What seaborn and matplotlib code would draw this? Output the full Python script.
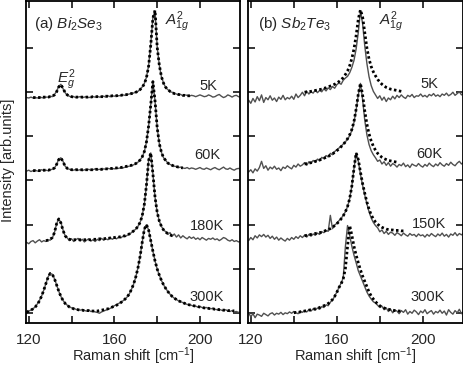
import numpy as np
import pandas as pd
import matplotlib
matplotlib.use("Agg")
import matplotlib.pyplot as plt
import seaborn as sns

# Raman shift grid of the measured spectra (cm^-1)
shift = np.arange(119, 220)

# ---- (a) Bi2Se3 : measured spectra, intensity above each baseline ----
bi_5k = [0.01, 0.00, 0.02, 0.00, 0.01, 0.00, 0.02, 0.01, 0.00, 0.02,
         0.02, 0.04, 0.03, 0.08, 0.15, 0.26, 0.31, 0.21, 0.12, 0.06,
         0.04, 0.02, 0.03, 0.01, 0.02, 0.03, 0.01, 0.02, 0.03, 0.01,
         0.02, 0.03, 0.02, 0.04, 0.02, 0.03, 0.04, 0.02, 0.05, 0.03,
         0.05, 0.04, 0.06, 0.05, 0.06, 0.07, 0.06, 0.08, 0.09, 0.11,
         0.11, 0.14, 0.15, 0.19, 0.25, 0.33, 0.47, 0.73, 1.22, 1.82,
         1.96, 1.16, 0.74, 0.47, 0.34, 0.23, 0.19, 0.14, 0.13, 0.10,
         0.09, 0.07, 0.08, 0.05, 0.07, 0.06, 0.04, 0.06, 0.05, 0.03,
         0.05, 0.07, 0.05, 0.03, 0.04, 0.07, 0.05, 0.02, 0.03, 0.06,
         0.08, 0.04, 0.01, 0.03, 0.07, 0.05, 0.02, 0.05, 0.06, 0.03,
         0.02]
bi_60k = [0.00, 0.02, -0.01, 0.01, 0.02, 0.00, 0.01, 0.03, 0.01, 0.02,
          0.01, 0.03, 0.04, 0.07, 0.15, 0.27, 0.30, 0.22, 0.11, 0.06,
          0.04, 0.03, 0.02, 0.04, 0.02, 0.03, 0.01, 0.03, 0.02, 0.04,
          0.02, 0.03, 0.05, 0.03, 0.04, 0.03, 0.05, 0.04, 0.06, 0.05,
          0.06, 0.05, 0.07, 0.06, 0.08, 0.07, 0.09, 0.10, 0.11, 0.13,
          0.14, 0.17, 0.20, 0.25, 0.32, 0.44, 0.66, 1.02, 1.50, 2.02,
          1.58, 0.98, 0.62, 0.42, 0.30, 0.24, 0.18, 0.15, 0.13, 0.11,
          0.10, 0.08, 0.09, 0.07, 0.06, 0.08, 0.05, 0.07, 0.06, 0.04,
          0.06, 0.08, 0.05, 0.04, 0.07, 0.05, 0.03, 0.06, 0.08, 0.05,
          0.03, 0.06, 0.09, 0.05, 0.04, 0.07, 0.04, 0.02, 0.05, 0.06,
          0.04]
bi_180k = [0.00, -0.03, 0.02, 0.04, -0.01, 0.03, 0.06, 0.01, 0.04, 0.02,
           0.06, 0.05, 0.10, 0.22, 0.42, 0.53, 0.45, 0.28, 0.15, 0.10,
           0.04, 0.08, 0.02, 0.06, 0.09, 0.03, 0.07, 0.01, 0.05, 0.08,
           0.03, 0.06, 0.02, 0.07, 0.04, 0.09, 0.05, 0.08, 0.06, 0.11,
           0.07, 0.10, 0.08, 0.12, 0.10, 0.14, 0.13, 0.16, 0.19, 0.22,
           0.26, 0.30, 0.36, 0.45, 0.60, 0.86, 1.30, 1.85, 2.02, 1.55,
           1.02, 0.68, 0.48, 0.36, 0.28, 0.24, 0.18, 0.22, 0.14, 0.19,
           0.12, 0.17, 0.10, 0.15, 0.11, 0.08, 0.13, 0.09, 0.12, 0.07,
           0.10, 0.06, 0.11, 0.08, 0.05, 0.09, 0.07, 0.10, 0.06, 0.08,
           0.04, 0.07, 0.11, 0.09, 0.05, 0.03, 0.06, 0.02, 0.04, 0.01,
           0.03]
bi_300k = [0.00, 0.03, 0.05, 0.08, 0.13, 0.19, 0.27, 0.37, 0.50, 0.65,
           0.80, 0.88, 0.86, 0.76, 0.62, 0.48, 0.36, 0.27, 0.21, 0.16,
           0.13, 0.10, 0.09, 0.07, 0.06, 0.05, 0.06, 0.04, 0.03, 0.05,
           0.02, 0.03, 0.01, 0.00, -0.02, 0.01, 0.03, 0.05, 0.07, 0.09,
           0.12, 0.15, 0.17, 0.20, 0.23, 0.26, 0.30, 0.35, 0.42, 0.52,
           0.64, 0.80, 1.00, 1.26, 1.58, 1.88, 1.98, 1.86, 1.62, 1.38,
           1.16, 0.98, 0.84, 0.72, 0.62, 0.54, 0.47, 0.41, 0.36, 0.32,
           0.29, 0.26, 0.24, 0.22, 0.20, 0.18, 0.17, 0.16, 0.14, 0.14,
           0.12, 0.13, 0.11, 0.10, 0.11, 0.09, 0.08, 0.09, 0.07, 0.06,
           0.07, 0.05, 0.04, 0.06, 0.03, 0.02, 0.04, 0.01, 0.02, 0.00,
           0.01]

# ---- (a) Bi2Se3 : fitted curves (start shift, values) ----
bi_5k_fit_start = 122
bi_5k_fit = [0.01, 0.01, 0.01, 0.01, 0.01, 0.02, 0.02, 0.02, 0.03, 0.04,
             0.07, 0.14, 0.25, 0.30, 0.22, 0.12, 0.07, 0.04, 0.03, 0.02,
             0.02, 0.02, 0.02, 0.02, 0.02, 0.02, 0.02, 0.02, 0.03, 0.03,
             0.03, 0.03, 0.03, 0.03, 0.04, 0.04, 0.04, 0.05, 0.05, 0.05,
             0.06, 0.06, 0.07, 0.07, 0.08, 0.09, 0.10, 0.11, 0.13, 0.15,
             0.19, 0.24, 0.32, 0.46, 0.72, 1.20, 1.80, 1.98, 1.15, 0.74,
             0.48, 0.33, 0.24, 0.19, 0.15, 0.12, 0.10, 0.09, 0.08, 0.07,
             0.06, 0.06, 0.05, 0.05, 0.05]
bi_60k_fit_start = 122
bi_60k_fit = [0.01, 0.01, 0.01, 0.01, 0.02, 0.02, 0.02, 0.02, 0.03, 0.04,
              0.07, 0.15, 0.26, 0.30, 0.21, 0.11, 0.06, 0.04, 0.03, 0.03,
              0.03, 0.03, 0.03, 0.03, 0.03, 0.03, 0.03, 0.03, 0.03, 0.04,
              0.04, 0.04, 0.04, 0.05, 0.05, 0.05, 0.06, 0.06, 0.07, 0.07,
              0.08, 0.08, 0.09, 0.10, 0.11, 0.12, 0.13, 0.15, 0.17, 0.20,
              0.25, 0.32, 0.44, 0.66, 1.02, 1.50, 2.02, 1.58, 0.98, 0.62,
              0.42, 0.30, 0.24, 0.18, 0.15, 0.13, 0.11, 0.10, 0.09, 0.08,
              0.07]
bi_180k_fit_start = 128
bi_180k_fit = [0.04, 0.05, 0.07, 0.11, 0.22, 0.42, 0.53, 0.44, 0.27, 0.15,
               0.09, 0.07, 0.06, 0.06, 0.06, 0.06, 0.06, 0.06, 0.06, 0.06,
               0.06, 0.06, 0.07, 0.07, 0.07, 0.08, 0.08, 0.08, 0.09, 0.09,
               0.10, 0.10, 0.11, 0.12, 0.12, 0.13, 0.14, 0.15, 0.17, 0.19,
               0.22, 0.26, 0.30, 0.36, 0.45, 0.60, 0.86, 1.30, 1.85, 2.02,
               1.55, 1.02, 0.68, 0.48, 0.36, 0.28, 0.23, 0.20, 0.17, 0.15,
               0.14]
bi_300k_fit_start = 119
bi_300k_fit = [0.00, 0.03, 0.05, 0.08, 0.12, 0.18, 0.26, 0.37, 0.50, 0.65,
               0.79, 0.88, 0.86, 0.76, 0.62, 0.48, 0.36, 0.27, 0.20, 0.16,
               0.12, 0.10, 0.08, 0.07, 0.06, 0.05, 0.05, 0.04, 0.04, 0.04,
               0.03, 0.03, 0.03, 0.03, 0.04, 0.05, 0.06, 0.07, 0.08, 0.10,
               0.12, 0.14, 0.16, 0.19, 0.22, 0.26, 0.30, 0.35, 0.42, 0.52,
               0.64, 0.80, 1.00, 1.26, 1.58, 1.88, 1.98, 1.86, 1.62, 1.38,
               1.16, 0.98, 0.84, 0.72, 0.62, 0.54, 0.47, 0.41, 0.36, 0.32,
               0.29, 0.26, 0.24, 0.22, 0.20, 0.18, 0.17, 0.16, 0.15, 0.14,
               0.13, 0.12, 0.11, 0.10, 0.10, 0.09, 0.08, 0.08, 0.07, 0.07,
               0.06, 0.06, 0.05, 0.05, 0.04, 0.04, 0.04, 0.03]

# ---- (b) Sb2Te3 : measured spectra ----
sb_5k = [0.02, -0.05, 0.06, -0.02, 0.10, 0.01, 0.14, -0.03, 0.08, 0.03,
         0.12, 0.02, 0.07, -0.01, 0.09, 0.04, 0.13, 0.03, 0.08, 0.05,
         0.11, 0.04, 0.16, 0.08, 0.13, 0.20, 0.12, 0.22, 0.16, 0.21,
         0.18, 0.25, 0.19, 0.24, 0.21, 0.28, 0.23, 0.30, 0.26, 0.33,
         0.29, 0.37, 0.41, 0.38, 0.47, 0.52, 0.56, 0.64, 0.76, 0.92,
         1.18, 1.55, 2.04, 1.75, 1.25, 0.85, 0.55, 0.35, 0.22, 0.14,
         0.06, 0.12, 0.02, 0.09, -0.01, 0.07, 0.03, 0.11, 0.05, 0.13,
         0.08, 0.14, 0.09, 0.06, 0.13, 0.10, 0.15, 0.08, 0.12, 0.11,
         0.16, 0.10, 0.13, 0.09, 0.15, 0.12, 0.17, 0.11, 0.14, 0.10,
         0.16, 0.13, 0.18, 0.12, 0.15, 0.20, 0.13, 0.17, 0.21, 0.14,
         0.18]
sb_60k = [-0.02, 0.03, -0.04, 0.05, 0.00, 0.08, 0.22, 0.06, 0.12, 0.02,
          0.09, 0.05, 0.11, 0.04, 0.07, 0.01, 0.09, 0.06, 0.12, 0.08,
          0.05, 0.13, 0.09, 0.16, 0.11, 0.14, 0.19, 0.13, 0.21, 0.17,
          0.24, 0.20, 0.27, 0.23, 0.31, 0.28, 0.35, 0.32, 0.40, 0.37,
          0.44, 0.48, 0.52, 0.56, 0.61, 0.66, 0.72, 0.80, 0.92, 1.10,
          1.38, 1.72, 1.98, 1.62, 1.15, 0.82, 0.60, 0.46, 0.37, 0.30,
          0.22, 0.25, 0.16, 0.21, 0.13, 0.19, 0.11, 0.17, 0.14, 0.09,
          0.15, 0.12, 0.18, 0.10, 0.14, 0.08, 0.16, 0.13, 0.11, 0.17,
          0.12, 0.09, 0.15, 0.11, 0.18, 0.13, 0.10, 0.16, 0.12, 0.19,
          0.14, 0.11, 0.17, 0.13, 0.20, 0.15, 0.12, 0.18, 0.22, 0.16,
          0.20]
sb_150k = [-0.05, 0.02, -0.03, 0.06, 0.01, 0.08, 0.04, 0.09, 0.03, 0.07,
           0.00, 0.05, -0.02, 0.03, -0.04, 0.01, -0.03, -0.06, 0.00, -0.04,
           0.02, -0.02, 0.04, 0.00, 0.06, 0.02, 0.07, 0.03, 0.09, 0.05,
           0.10, 0.07, 0.12, 0.09, 0.15, 0.13, 0.18, 0.16, 0.52, 0.22,
           0.30, 0.34, 0.40, 0.45, 0.52, 0.60, 0.72, 0.90, 1.18, 1.58,
           1.93, 1.75, 1.45, 1.20, 0.98, 0.78, 0.60, 0.46, 0.36, 0.29,
           0.24, 0.15, 0.19, 0.11, 0.16, 0.09, 0.14, 0.12, 0.07, 0.13,
           0.10, 0.06, 0.12, 0.08, 0.05, 0.11, 0.07, 0.09, 0.04, 0.10,
           0.06, 0.08, 0.03, 0.09, 0.05, 0.11, 0.07, 0.04, 0.10, 0.06,
           0.12, 0.05, 0.09, 0.03, 0.10, 0.07, 0.13, 0.06, 0.11, 0.08,
           0.12]
sb_300k = [0.05, -0.04, 0.03, -0.06, 0.02, 0.00, -0.03, 0.04, 0.01, -0.02,
           0.03, 0.05, 0.00, 0.04, 0.02, 0.06, 0.01, 0.05, 0.03, 0.07,
           0.04, 0.08, 0.05, 0.03, 0.09, 0.06, 0.10, 0.07, 0.12, 0.09,
           0.14, 0.11, 0.16, 0.13, 0.19, 0.17, 0.23, 0.21, 0.29, 0.34,
           0.42, 0.52, 0.62, 0.72, 0.84, 1.55, 2.02, 1.80, 1.55, 1.35,
           1.18, 1.00, 0.88, 0.76, 0.64, 0.52, 0.43, 0.36, 0.30, 0.27,
           0.22, 0.17, 0.20, 0.12, 0.16, 0.08, 0.13, 0.05, 0.11, 0.09,
           0.03, 0.10, 0.06, 0.12, 0.02, 0.08, 0.04, 0.11, 0.07, 0.01,
           0.09, 0.05, 0.12, 0.03, 0.07, 0.10, 0.02, 0.08, 0.05, 0.11,
           0.04, 0.09, 0.00, 0.12, 0.06, 0.02, 0.10, 0.05, 0.13, 0.03,
           0.08]

# ---- (b) Sb2Te3 : fitted curves ----
sb_5k_fit_start = 145
sb_5k_fit = [0.20, 0.21, 0.21, 0.22, 0.23, 0.24, 0.25, 0.26, 0.27, 0.29,
             0.30, 0.32, 0.34, 0.36, 0.38, 0.41, 0.44, 0.48, 0.53, 0.60,
             0.68, 0.80, 0.96, 1.18, 1.48, 1.85, 2.06, 1.90, 1.55, 1.20,
             0.95, 0.78, 0.66, 0.57, 0.49, 0.43, 0.38, 0.34, 0.31, 0.29,
             0.27, 0.26, 0.25, 0.24, 0.23, 0.22]
sb_60k_fit_start = 145
sb_60k_fit = [0.16, 0.17, 0.18, 0.19, 0.20, 0.22, 0.23, 0.25, 0.27, 0.29,
              0.31, 0.33, 0.36, 0.39, 0.42, 0.46, 0.50, 0.55, 0.60, 0.66,
              0.73, 0.82, 0.94, 1.12, 1.40, 1.74, 1.98, 1.72, 1.36, 1.06,
              0.84, 0.68, 0.56, 0.47, 0.40, 0.35, 0.31, 0.28, 0.26, 0.24,
              0.23, 0.22, 0.21, 0.20]
sb_150k_fit_start = 145
sb_150k_fit = [0.06, 0.07, 0.08, 0.09, 0.10, 0.11, 0.12, 0.13, 0.14, 0.16,
               0.18, 0.20, 0.22, 0.25, 0.29, 0.33, 0.38, 0.44, 0.51, 0.60,
               0.72, 0.90, 1.18, 1.58, 1.93, 1.78, 1.50, 1.24, 1.02, 0.82,
               0.66, 0.53, 0.44, 0.37, 0.32, 0.28, 0.25, 0.23, 0.21, 0.20,
               0.19, 0.19, 0.18, 0.18, 0.18, 0.17, 0.17, 0.17]
sb_300k_fit_start = 140
sb_300k_fit = [0.05, 0.06, 0.06, 0.07, 0.08, 0.09, 0.10, 0.11, 0.12, 0.13,
               0.14, 0.15, 0.17, 0.19, 0.21, 0.23, 0.26, 0.30, 0.35, 0.42,
               0.51, 0.62, 0.70, 0.82, 1.05, 1.55, 2.02, 1.80, 1.55, 1.35,
               1.18, 1.02, 0.88, 0.76, 0.64, 0.52, 0.43, 0.36, 0.30, 0.25,
               0.21, 0.18, 0.16, 0.14, 0.13, 0.12, 0.11, 0.10, 0.10, 0.09,
               0.09]

# vertical offsets of the stacked spectra and their temperature labels
bi_offsets = [4.86, 3.21, 1.60, 0.02]
bi_temps = ["5K", "60K", "180K", "300K"]
sb_offsets = [4.79, 3.21, 1.69, -0.04]
sb_temps = ["5K", "60K", "150K", "300K"]

sns.set_style("ticks")
plt.rcParams["font.family"] = ["Liberation Sans", "DejaVu Sans"]
plt.rcParams["mathtext.fontset"] = "custom"
plt.rcParams["mathtext.rm"] = "Liberation Sans"
plt.rcParams["mathtext.it"] = "Liberation Sans:italic"


def trace_frame(x, y, offset):
    return pd.DataFrame({"shift": np.asarray(x), "intensity": np.asarray(y) + offset})


def draw_panel(ax, spectra, fits, offsets, temps, label_xy, title, peak_xy):
    for (y, (start, fy), off) in zip(spectra, fits, offsets):
        sns.lineplot(data=trace_frame(shift, y, off), x="shift", y="intensity",
                     ax=ax, color="#505050", linewidth=1.0, estimator=None)
        fx = np.arange(start, start + len(fy))
        sns.lineplot(data=trace_frame(fx, fy, off), x="shift", y="intensity",
                     ax=ax, color="black", linewidth=2.0, estimator=None,
                     linestyle=(0, (0.9, 0.9)))
    for (tx, ty), t in zip(label_xy, temps):
        ax.text(tx, ty, t, ha="right", va="center", fontsize=10.5)
    ax.text(title[0], title[1], title[2], ha="left", va="center", fontsize=11)
    ax.text(peak_xy[0], peak_xy[1], r"$A^{2}_{1g}$", ha="left", va="center", fontsize=11)

    ax.set_xlim(118.7, 218.7)
    ax.set_ylim(-0.22, 7.05)
    ax.set_xticks([120, 140, 160, 180, 200])
    ax.set_xticklabels(["120", "", "160", "", "200"])
    ax.set_yticks([0, 1, 2, 3, 4, 5, 6])
    ax.set_yticklabels([])
    ax.tick_params(direction="in", top=True, right=True, length=5, width=1.1,
                   labelsize=11, pad=7, color="black")
    for s in ax.spines.values():
        s.set_linewidth(1.3)
        s.set_color("black")
    ax.set_xlabel("Raman shift [cm$^{-1}$]", fontsize=10.5, labelpad=-1)
    ax.set_ylabel("")


fig = plt.figure(figsize=(4.64, 3.68), dpi=100)
ax1 = fig.add_axes([26 / 464, 45 / 368, 214 / 464, 322 / 368])
ax2 = fig.add_axes([248 / 464, 45 / 368, 215 / 464, 322 / 368])

draw_panel(ax1, [bi_5k, bi_60k, bi_180k, bi_300k],
           [(bi_5k_fit_start, bi_5k_fit), (bi_60k_fit_start, bi_60k_fit),
            (bi_180k_fit_start, bi_180k_fit), (bi_300k_fit_start, bi_300k_fit)],
           bi_offsets, bi_temps,
           [(208.2, 5.12), (209.4, 3.57), (211.2, 1.98), (211.2, 0.36)],
           (122.6, 6.52, r"(a) $Bi_2Se_3$"), (183.5, 6.58))
ax1.text(133.2, 5.28, r"$E^{2}_{g}$", ha="left", va="center", fontsize=11)

draw_panel(ax2, [sb_5k, sb_60k, sb_150k, sb_300k],
           [(sb_5k_fit_start, sb_5k_fit), (sb_60k_fit_start, sb_60k_fit),
            (sb_150k_fit_start, sb_150k_fit), (sb_300k_fit_start, sb_300k_fit)],
           sb_offsets, sb_temps,
           [(207.2, 5.17), (209.0, 3.60), (210.9, 2.02), (210.4, 0.36)],
           (123.4, 6.52, r"(b) $Sb_2Te_3$"), (179.6, 6.58))

fig.text(8 / 464, 1 - 160 / 368, "Intensity [arb.units]", rotation=90,
         ha="center", va="center", fontsize=10.5)

fig.savefig("out.png", dpi=100)
